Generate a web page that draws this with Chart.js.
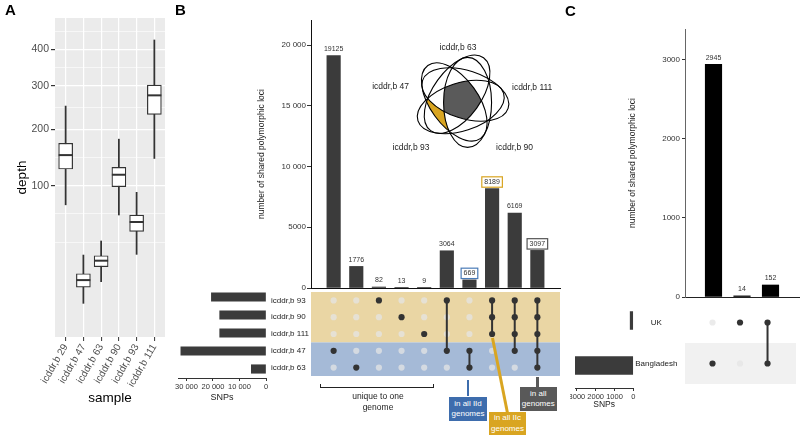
<!DOCTYPE html>
<html>
<head>
<meta charset="utf-8">
<script src="https://cdn.jsdelivr.net/npm/chart.js@4.4.0/dist/chart.umd.min.js"></script>
<style>
body { margin: 0; width: 800px; height: 436px; position: relative; overflow: hidden; background: #fff; font-family: "Liberation Sans", Arial, sans-serif; }
canvas { position: absolute; }
.lbl { position: absolute; font-weight: bold; font-size: 15px; color: #000; }
.note { position: absolute; color: #fff; font-size: 8px; line-height: 10.5px; text-align: center; display: flex; align-items: center; justify-content: center; }
.rule { position: absolute; }
</style>
</head>
<body>
<canvas id="chart-depth" width="175" height="436" style="left:0;top:0"></canvas>
<canvas id="chart-genome-matrix" width="299" height="92" style="left:271px;top:288px"></canvas>
<canvas id="chart-genome-snps" width="101" height="120" style="left:170px;top:288px"></canvas>
<canvas id="chart-genome-loci" width="320" height="292" style="left:250px;top:0;z-index:2"></canvas>
<canvas id="chart-origin-matrix" width="165" height="90" style="left:635px;top:298px"></canvas>
<canvas id="chart-origin-snps" width="68" height="115" style="left:570px;top:298px"></canvas>
<canvas id="chart-origin-loci" width="180" height="301" style="left:620px;top:0;z-index:2"></canvas>

<div class="lbl" style="left:5px;top:1px">A</div>
<div class="lbl" style="left:175px;top:1px">B</div>
<div class="lbl" style="left:565px;top:2px">C</div>

<div class="rule" style="left:320px;top:384px;width:112px;height:3px;border:1.5px solid #222;border-top:none"></div>
<div style="position:absolute;left:337px;top:391px;width:82px;text-align:center;font-size:8.5px;line-height:11px;color:#222">unique to one<br>genome</div>
<div class="rule" style="left:466.5px;top:380px;width:2.5px;height:16px;background:#3E6DAD"></div>
<div class="note" style="left:449px;top:397px;width:38px;height:24px;background:#3E6DAD;z-index:3"><span>in all IId<br>genomes</span></div>
<div class="rule" style="left:491px;top:338px;width:3px;height:77px;background:#D9A521;transform-origin:50% 0;transform:rotate(-11.3deg);z-index:3"></div>
<div class="note" style="left:489px;top:412px;width:37px;height:23px;background:#D9A521;z-index:3"><span>in all IIc<br>genomes</span></div>
<div class="rule" style="left:535.5px;top:377px;width:3px;height:10px;background:#5A5A5A"></div>
<div class="note" style="left:519.5px;top:387px;width:37.5px;height:24px;background:#595959;z-index:3"><span>in all<br>genomes</span></div>

<script>
// panel A: read depth per sample
const samples = ['icddr,b 29', 'icddr,b 47', 'icddr,b 63', 'icddr,b 90', 'icddr,b 93', 'icddr,b 111'];
const depthLow = [74, 1.9, 8.8, 61.7, 24.7, 144];
const depthQ1 = [126, 6.6, 16.5, 98.6, 44.3, 232];
const depthMedian = [150, 9.5, 20.3, 116.8, 53.9, 276.5];
const depthQ3 = [172, 12.6, 23.7, 128.8, 61.6, 302];
const depthHigh = [251, 24.2, 35.4, 180, 90.6, 428];
const depthTicks = [100, 200, 300, 400];

// panel B: shared polymorphic loci between genomes
const genomes = ['icddr,b 93', 'icddr,b 90', 'icddr,b 111', 'icddr,b 47', 'icddr,b 63'];
const genomeSnps = [20601, 17468, 17464, 32124, 5542];
const combos = [
    ['icddr,b 47'], ['icddr,b 63'], ['icddr,b 93'], ['icddr,b 90'], ['icddr,b 111'],
    ['icddr,b 93', 'icddr,b 47'], ['icddr,b 47', 'icddr,b 63'],
    ['icddr,b 93', 'icddr,b 90', 'icddr,b 111'],
    ['icddr,b 93', 'icddr,b 90', 'icddr,b 111', 'icddr,b 47'],
    ['icddr,b 93', 'icddr,b 90', 'icddr,b 111', 'icddr,b 47', 'icddr,b 63']
];
const comboCounts = [19125, 1776, 82, 13, 9, 3064, 669, 8189, 6169, 3097];
const lociTicks = [0, 5000, 10000, 15000, 20000];
const genomeSnpTicks = [0, 10000, 20000, 30000];
const vennSets = ['icddr,b 63', 'icddr,b 111', 'icddr,b 90', 'icddr,b 93', 'icddr,b 47'];

// panel C: by origin
const origins = ['UK', 'Bangladesh'];
const originSnps = [166, 3097];
const originCombos = [['Bangladesh'], ['UK'], ['UK', 'Bangladesh']];
const originCounts = [2945, 14, 152];
const originTicks = [0, 1000, 2000, 3000];
const originSnpTicks = [0, 1000, 2000, 3000];

Chart.defaults.font.family = '"Liberation Sans", Arial, sans-serif';
Chart.defaults.color = '#333';

const base = {
    animation: false,
    responsive: false,
    events: [],
    plugins: { legend: { display: false }, tooltip: { enabled: false } }
};
const fmt = v => v >= 10000 ? String(v).replace(/\B(?=(\d{3})+(?!\d))/g, ' ') : String(v);
const setTicks = list => s => { s.ticks = list.map(v => ({ value: v })); };
// pin axis sizes and drop the label overhang padding chart.js adds
const fixW = w => s => { s.width = w; s.paddingTop = 0; s.paddingBottom = 0; };
const fixH = h => s => { s.height = h; s.paddingLeft = 0; s.paddingRight = 0; };

// ---------- A ----------
const sq = v => Math.sqrt(v);
const majorS = depthTicks.map(sq);
const minorS = [majorS[0] - (majorS[1] - majorS[0])];
for (let i = 0; i < majorS.length; i++) {
    const next = i < majorS.length - 1 ? majorS[i + 1] : majorS[i] + (majorS[i] - majorS[i - 1]);
    minorS.push((majorS[i] + next) / 2);
}
minorS.splice(1, 0, (minorS[0] + majorS[0]) / 2);
const isMajor = v => majorS.some(m => Math.abs(m - v) < 1e-6);

const panelBg = {
    id: 'panelBg',
    beforeDraw(chart) {
        const { ctx, chartArea: a } = chart;
        ctx.save();
        ctx.fillStyle = '#EBEBEB';
        ctx.fillRect(a.left, a.top, a.right - a.left, a.bottom - a.top);
        ctx.restore();
    }
};

new Chart(document.getElementById('chart-depth'), {
    type: 'bar',
    data: {
        datasets: [
            { type: 'line', data: samples.map((s, i) => ({ x: i, y: sq(depthMedian[i]) })), showLine: false, pointStyle: 'line', pointRadius: 7, pointBorderWidth: 2, pointBorderColor: '#333', order: 0 },
            { data: samples.map((s, i) => ({ x: i, y: [sq(depthQ1[i]), sq(depthQ3[i])] })), backgroundColor: '#fff', borderColor: '#333', borderWidth: 1.2, borderSkipped: false, barThickness: 14, grouped: false, order: 1 },
            { data: samples.map((s, i) => ({ x: i, y: [sq(depthLow[i]), sq(depthHigh[i])] })), backgroundColor: '#333', barThickness: 1.1, grouped: false, order: 2 }
        ]
    },
    options: {
        ...base,
        layout: { padding: { left: 0, top: 18, right: 10, bottom: 0 } },
        scales: {
            x: {
                type: 'linear', min: -0.6, max: 5.6, offset: false,
                afterBuildTicks: setTicks(samples.map((s, i) => i)),
                afterFit: fixH(99),
                ticks: { callback: v => samples[v], minRotation: 60, maxRotation: 60, autoSkip: false, font: { size: 10 }, color: '#4D4D4D', padding: 1 },
                grid: { color: '#fff', lineWidth: 1.2, tickColor: '#333', tickLength: 4, tickWidth: 1, offset: false },
                border: { display: false },
                title: { display: true, text: 'sample', font: { size: 13.5 }, color: '#000', padding: { top: 0, bottom: 30 } }
            },
            y: {
                min: -1.09, max: 22.3,
                afterBuildTicks: setTicks([...minorS, ...majorS].sort((a, b) => a - b)),
                afterFit: fixW(55),
                ticks: { callback: v => isMajor(v) ? String(Math.round(v * v)) : '', autoSkip: false, font: { size: 10.5 }, color: '#4D4D4D', padding: 2 },
                grid: {
                    color: '#fff',
                    lineWidth: c => c.tick && isMajor(c.tick.value) ? 1.2 : 0.6,
                    tickColor: c => c.tick && isMajor(c.tick.value) ? '#333' : 'rgba(0,0,0,0)',
                    tickLength: 4
                },
                border: { display: false },
                title: { display: true, text: 'depth', font: { size: 13.5 }, color: '#000', padding: { top: 14, bottom: 0 } }
            }
        }
    },
    plugins: [panelBg]
});

// ---------- shared helpers for the upset panels ----------
function valueLabels(boxes) {
    return {
        id: 'valueLabels',
        afterDatasetsDraw(chart) {
            const { ctx } = chart;
            const meta = chart.getDatasetMeta(0);
            ctx.save();
            ctx.font = '7px "Liberation Sans", Arial, sans-serif';
            ctx.textAlign = 'center';
            ctx.textBaseline = 'middle';
            meta.data.forEach((bar, i) => {
                const txt = String(chart.data.datasets[0].data[i].y);
                const y = bar.y - 6.5;
                if (boxes[i]) {
                    const w = ctx.measureText(txt).width + 5;
                    ctx.fillStyle = '#fff';
                    ctx.fillRect(bar.x - w / 2, y - 5.2, w, 10.4);
                    ctx.strokeStyle = boxes[i];
                    ctx.lineWidth = 1.2;
                    ctx.strokeRect(bar.x - w / 2, y - 5.2, w, 10.4);
                }
                ctx.fillStyle = '#333';
                ctx.fillText(txt, bar.x, y);
            });
            ctx.restore();
        }
    };
}

function bandPlugin(list) {
    return {
        id: 'bands',
        beforeDatasetsDraw(chart) {
            const { ctx, chartArea: a, scales: { y } } = chart;
            ctx.save();
            list.forEach(b => {
                const y0 = y.getPixelForValue(b.from), y1 = y.getPixelForValue(b.to);
                ctx.fillStyle = b.color;
                ctx.fillRect(a.left, Math.min(y0, y1), a.right - a.left, Math.abs(y1 - y0));
            });
            ctx.restore();
        }
    };
}

function matrixDatasets(sets, combs) {
    const on = [], off = [], lines = [];
    combs.forEach((c, i) => {
        const rows = [];
        sets.forEach((s, r) => {
            if (c.includes(s)) { on.push({ x: i, y: r }); rows.push(r); }
            else off.push({ x: i, y: r });
        });
        if (rows.length > 1) {
            lines.push({ type: 'line', data: [{ x: i, y: Math.min(...rows) }, { x: i, y: Math.max(...rows) }], borderColor: '#333', borderWidth: 2, pointRadius: 0, order: 1 });
        }
    });
    return [
        { data: on, pointRadius: 3.1, backgroundColor: '#333', borderWidth: 0, order: 0 },
        ...lines,
        { data: off, pointRadius: 3.1, backgroundColor: 'rgba(228,228,228,0.75)', borderWidth: 0, order: 2 }
    ];
}

// ---------- B: intersection bars with Venn ----------
const venn = {
    id: 'venn',
    afterDraw(chart) {
        const { ctx } = chart;
        const W = chart.width, H = chart.height;
        const cx = 211, cy = 100, ra = 45, rb = 24, d = 7, delta = -110 * Math.PI / 180;
        const ells = {};
        vennSets.forEach((name, k) => {
            const phi = (90 - 72 * k) * Math.PI / 180;
            ells[name] = { x: cx + d * Math.cos(phi + delta), y: cy - d * Math.sin(phi + delta), rot: -phi };
        });
        const path = e => {
            ctx.beginPath();
            ctx.ellipse(e.x, e.y, ra, rb, e.rot, 0, 2 * Math.PI);
        };
        const region = (inside, color) => {
            ctx.save();
            vennSets.forEach(n => {
                const e = ells[n];
                if (inside.includes(n)) { path(e); ctx.clip(); }
                else {
                    ctx.beginPath();
                    ctx.rect(0, 0, W, H);
                    ctx.moveTo(e.x + ra * Math.cos(e.rot), e.y + ra * Math.sin(e.rot));
                    ctx.ellipse(e.x, e.y, ra, rb, e.rot, 0, 2 * Math.PI);
                    ctx.clip('evenodd');
                }
            });
            ctx.fillStyle = color;
            ctx.fillRect(0, 0, W, H);
            ctx.restore();
        };
        region(vennSets, '#5A5A5A');
        region(['icddr,b 93', 'icddr,b 90', 'icddr,b 111'], '#D9A521');
        region(['icddr,b 47', 'icddr,b 63'], '#4A74AE');
        ctx.save();
        ctx.strokeStyle = '#000';
        ctx.lineWidth = 1.1;
        vennSets.forEach(n => { path(ells[n]); ctx.stroke(); });
        ctx.font = '8.5px "Liberation Sans", Arial, sans-serif';
        ctx.fillStyle = '#222';
        ctx.textBaseline = 'middle';
        const spots = { 'icddr,b 63': [208, 47.5, 'center'], 'icddr,b 111': [262, 88, 'left'], 'icddr,b 90': [264.5, 148, 'center'], 'icddr,b 93': [161, 148, 'center'], 'icddr,b 47': [159, 87, 'right'] };
        vennSets.forEach(n => {
            const [x, y, al] = spots[n];
            ctx.textAlign = al;
            ctx.fillText(n, x, y);
        });
        ctx.restore();
    }
};

new Chart(document.getElementById('chart-genome-loci'), {
    type: 'bar',
    data: { datasets: [{ data: comboCounts.map((v, i) => ({ x: i, y: v })), backgroundColor: '#3B3B3B', barThickness: 13.5 }] },
    options: {
        ...base,
        layout: { padding: { left: 0, top: 20, right: 10, bottom: 0 } },
        scales: {
            x: { type: 'linear', min: -1, max: 10, offset: false, afterFit: fixH(4), ticks: { display: false }, grid: { display: false }, border: { color: '#111', width: 1 } },
            y: {
                min: 0, max: 22060,
                afterBuildTicks: setTicks(lociTicks),
                afterFit: fixW(61),
                ticks: { callback: fmt, font: { size: 8 }, color: '#333', padding: 1 },
                grid: { drawOnChartArea: false, tickLength: 4, color: '#333' },
                border: { color: '#111' },
                title: { display: true, text: 'number of shared polymorphic loci', font: { size: 8.5 }, color: '#222', padding: { top: 7, bottom: 0 } }
            }
        }
    },
    plugins: [valueLabels({ 6: '#4A7BB7', 7: '#D9A521', 9: '#555' }), venn]
});

new Chart(document.getElementById('chart-genome-matrix'), {
    type: 'scatter',
    data: { datasets: matrixDatasets(genomes, combos) },
    options: {
        ...base,
        layout: { padding: { left: 0, top: 0, right: 10, bottom: 2 } },
        scales: {
            x: { type: 'linear', min: -1, max: 10, display: false },
            y: {
                type: 'linear', min: -0.5, max: 4.5, reverse: true,
                afterBuildTicks: setTicks(genomes.map((g, i) => i)),
                afterFit: fixW(40),
                ticks: { callback: v => genomes[v], crossAlign: 'far', autoSkip: false, font: { size: 8 }, color: '#222' },
                grid: { display: false, drawTicks: false },
                border: { display: false }
            }
        }
    },
    plugins: [bandPlugin([{ from: -0.5, to: 2.5, color: '#EAD6A4' }, { from: 2.5, to: 4.5, color: '#A5BAD7' }])]
});

new Chart(document.getElementById('chart-genome-snps'), {
    type: 'bar',
    data: { datasets: [{ data: genomeSnps.map((v, i) => ({ x: v, y: i })), backgroundColor: '#3B3B3B', barThickness: 8.5 }] },
    options: {
        ...base,
        indexAxis: 'y',
        layout: { padding: { left: 8, top: 0, right: 5, bottom: 0 } },
        scales: {
            y: { type: 'linear', min: -0.5, max: 4.5, reverse: true, offset: false, display: false },
            x: {
                min: 0, max: 33200, reverse: true,
                afterBuildTicks: setTicks(genomeSnpTicks),
                afterFit: fixH(30),
                ticks: { callback: fmt, font: { size: 7.5 }, color: '#333', padding: 1, maxRotation: 0, autoSkip: false },
                grid: { drawOnChartArea: false, tickLength: 3, color: '#333' },
                border: { color: '#333' },
                title: { display: true, text: 'SNPs', font: { size: 9 }, color: '#222', padding: { top: 0, bottom: 4.6 } }
            }
        }
    }
});

// ---------- C ----------
new Chart(document.getElementById('chart-origin-loci'), {
    type: 'bar',
    data: { datasets: [{ data: originCounts.map((v, i) => ({ x: i, y: v })), backgroundColor: '#000', barThickness: 16.5 }] },
    options: {
        ...base,
        layout: { padding: { left: 0, top: 29, right: 0, bottom: 0 } },
        scales: {
            x: { type: 'linear', min: -1, max: 3.035, offset: false, afterFit: fixH(4), ticks: { display: false }, grid: { display: false }, border: { color: '#222', width: 1 } },
            y: {
                min: 0, max: 3392,
                afterBuildTicks: setTicks(originTicks),
                afterFit: fixW(65),
                ticks: { callback: v => String(v), font: { size: 8 }, color: '#333', padding: 2 },
                grid: { drawOnChartArea: false, tickLength: 3, color: '#333' },
                border: { color: '#666' },
                title: { display: true, text: 'number of shared polymorphic loci', font: { size: 8.5 }, color: '#222', padding: { top: 8, bottom: 0 } }
            }
        }
    },
    plugins: [valueLabels({})]
});

new Chart(document.getElementById('chart-origin-matrix'), {
    type: 'scatter',
    data: { datasets: matrixDatasets(origins, originCombos) },
    options: {
        ...base,
        layout: { padding: { left: 0, top: 0, right: 0, bottom: 0 } },
        scales: {
            x: { type: 'linear', min: -1, max: 3.035, display: false },
            y: {
                type: 'linear', min: -0.5, max: 1.5, reverse: true,
                afterBuildTicks: setTicks(origins.map((o, i) => i)),
                afterFit: fixW(50),
                ticks: { callback: v => origins[v], crossAlign: 'center', padding: 7.5, autoSkip: false, font: { size: 8 }, color: '#222' },
                grid: { display: false, drawTicks: false },
                border: { display: false }
            }
        }
    },
    plugins: [bandPlugin([{ from: 0.5, to: 1.5, color: '#F1F1F1' }])]
});

new Chart(document.getElementById('chart-origin-snps'), {
    type: 'bar',
    data: { datasets: [{ data: originSnps.map((v, i) => ({ x: v, y: i })), backgroundColor: '#3B3B3B', barThickness: 18 }] },
    options: {
        ...base,
        indexAxis: 'y',
        layout: { padding: { left: 5, top: 0, right: 4.7, bottom: 0 } },
        scales: {
            y: { type: 'linear', min: -0.5, max: 1.5, reverse: true, offset: false, display: false },
            x: {
                min: 0, max: 3100, reverse: true,
                afterBuildTicks: setTicks(originSnpTicks),
                afterFit: fixH(25),
                ticks: { callback: v => String(v), font: { size: 7.5 }, color: '#333', padding: 1, maxRotation: 0, autoSkip: false },
                grid: { drawOnChartArea: false, tickLength: 3, color: '#333' },
                border: { color: '#333' },
                title: { display: true, text: 'SNPs', font: { size: 8.5 }, color: '#222', padding: { top: 0, bottom: 2.9 } }
            }
        }
    }
});
</script>
</body>
</html>
